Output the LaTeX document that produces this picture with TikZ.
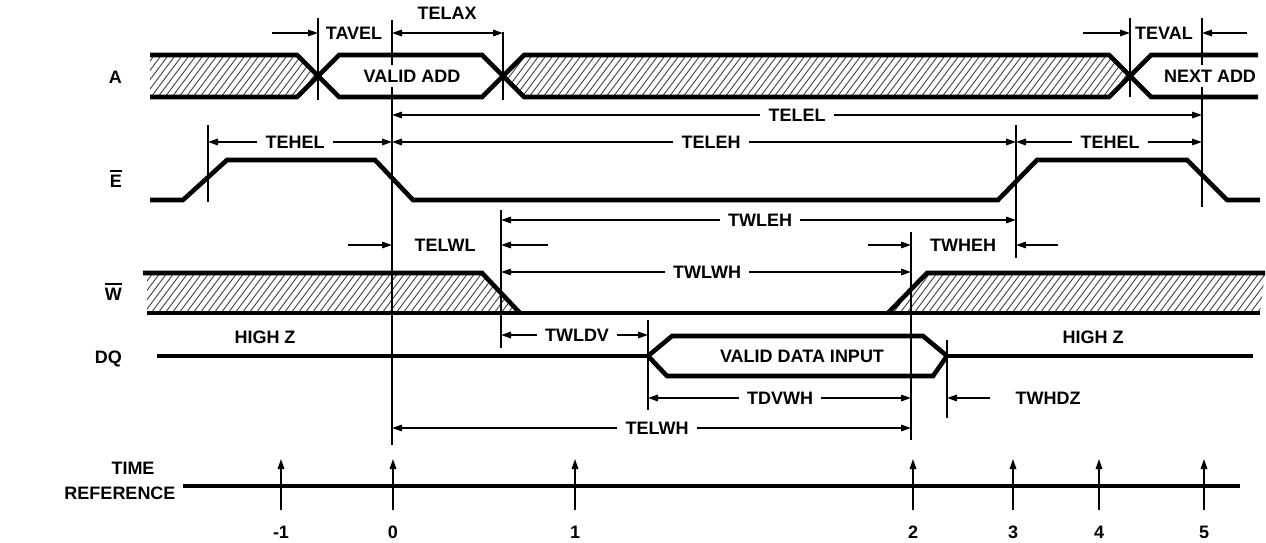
\documentclass[tikz,border=0pt]{standalone}
\usepackage{fontspec}
\setmainfont{Liberation Sans}
\usetikzlibrary{arrows.meta}
\newcommand\ovbar[1]{\vbox{\hrule height 1.5pt\kern 3pt\hbox{#1}}}
\newcommand\myhatch[3]{\begin{scope}\clip #1;\foreach \hx in {60,67,...,1300}{\draw[hatchline] (\hx,#2) -- ++({0.75*(#2-#3)},{-(#2-#3)});}\end{scope}}
\begin{document}
\begin{tikzpicture}[x=1pt,y=-1pt,
  every node/.style={font=\fontsize{18}{20}\selectfont\bfseries, inner sep=2pt},
  sig/.style={line width=4.6pt, line join=miter},
  guide/.style={line width=1.6pt},
  arr/.style={line width=1.6pt, -{Triangle[length=10pt,width=6.5pt]}},
  darr/.style={line width=1.6pt, {Triangle[length=10pt,width=6.5pt]}-{Triangle[length=10pt,width=6.5pt]}},
  lbl/.style={inner xsep=8pt},
  hatchline/.style={line width=0.9pt, black!75}
]
\useasboundingbox (0,0) rectangle (1266,543);

% ---------- hatching ----------
\myhatch{(150,55) -- (297,55) -- (318,76) -- (297,97) -- (150,97) -- cycle}{97}{55}
\myhatch{(503,76) -- (524,55) -- (1109,55) -- (1130,76) -- (1109,97) -- (524,97) -- cycle}{97}{55}
\myhatch{(147,273) -- (482,273) -- (520,313) -- (147,313) -- cycle}{313}{273}
\myhatch{(888,313) -- (927,273) -- (1265,273) -- (1260,313) -- cycle}{313}{273}

% ---------- signals ----------
% A
\draw[sig] (150,55) -- (297,55) -- (339,97) -- (482,97) -- (524,55) -- (1109,55) -- (1151,97) -- (1258,97);
\draw[sig] (150,97) -- (297,97) -- (339,55) -- (482,55) -- (524,97) -- (1109,97) -- (1151,55) -- (1258,55);
% E
\draw[sig] (150,200) -- (183,200) -- (227,160) -- (375,160) -- (413,200) -- (998,200) -- (1037,160) -- (1187,160) -- (1227,200) -- (1260,200);
% W
\draw[sig] (143,273) -- (482,273) -- (520,313);
\draw[sig] (888,313) -- (927,273) -- (1265,273);
\draw[sig] (147,313) -- (1260,313);
% DQ
\draw[sig] (157,356) -- (648,356);
\draw[sig] (648,356) -- (672,336) -- (923,336) -- (947,356) -- (933,376) -- (667,376) -- cycle;
\draw[sig] (947,356) -- (1253,356);
% time reference
\coordinate (tlL) at (183,486);
\coordinate (tlR) at (1240,486);
\draw[sig] (tlL) -- (tlR);

% ---------- guide lines ----------
\coordinate (gA) at (318,18);   \coordinate (gAb) at (318,100);
\coordinate (g0) at (392,20);   \coordinate (g0b) at (392,445);
\coordinate (gB) at (503,32);   \coordinate (gBb) at (503,100);
\coordinate (gC) at (1130,18);  \coordinate (gCb) at (1130,97);
\coordinate (gD) at (1202,18);  \coordinate (gDb) at (1202,207);
\coordinate (gE) at (208,125);  \coordinate (gEb) at (208,202);
\coordinate (gF) at (1016,125); \coordinate (gFb) at (1016,258);
\coordinate (gG) at (501,210);  \coordinate (gGb) at (501,348);
\coordinate (gH) at (911,232);  \coordinate (gHb) at (911,440);
\coordinate (gI) at (648,320);  \coordinate (gIb) at (648,410);
\coordinate (gJ) at (947,340);  \coordinate (gJb) at (947,418);
\foreach \g in {gA,g0,gB,gC,gD,gE,gF,gG,gH,gI,gJ}{\draw[guide] (\g) -- (\g b);}

% ---------- signal texts ----------
\node[fill=white, inner ysep=5pt] (validadd) at (412,76) {VALID ADD};
\node[fill=white, inner ysep=5pt] (nextadd) at (1210,76) {NEXT ADD};
\node (validdata) at (802,356) {VALID DATA INPUT};
\node (highz1) at (265,337) {HIGH Z};
\node (highz2) at (1093,337) {HIGH Z};

% ---------- row labels ----------
\node[anchor=base east] (lA) at (124,83) {A};
\node[anchor=base east] (lE) at (124,187) {\ovbar{E}};
\node[anchor=base east] (lW) at (124,300) {\ovbar{W}};
\node[anchor=base east] (lDQ) at (124,363) {DQ};
\node (ltime) at (133,468) {TIME};
\node (lref) at (120,493) {REFERENCE};

% ---------- timing dimensions ----------
% TAVEL
\node (tavel) at (354,33) {TAVEL};
\coordinate (tavelL) at (272,33);
\draw[arr] (tavelL) -- (gA |- tavel);
% TELAX
\node (telax) at (447,13) {TELAX};
\coordinate (telaxY) at (447,33);
\draw[darr] (g0 |- telaxY) -- (gB |- telaxY);
% TEVAL
\node (teval) at (1164,33) {TEVAL};
\coordinate (tevalL) at (1083,33);
\coordinate (tevalR) at (1247,33);
\draw[arr] (tevalL) -- (gC |- teval);
\draw[arr] (tevalR) -- (gD |- teval);
% TELEL
\node[lbl] (telel) at (797,115) {TELEL};
\draw[arr] (telel.west) -- (g0 |- telel);
\draw[arr] (telel.east) -- (gD |- telel);
% TEHEL left
\node[lbl] (tehel1) at (295,142) {TEHEL};
\draw[arr] (tehel1.west) -- (gE |- tehel1);
\draw[arr] (tehel1.east) -- (g0 |- tehel1);
% TELEH
\node[lbl] (teleh) at (711,142) {TELEH};
\draw[arr] (teleh.west) -- (g0 |- teleh);
\draw[arr] (teleh.east) -- (gF |- teleh);
% TEHEL right
\node[lbl] (tehel2) at (1110,142) {TEHEL};
\draw[arr] (tehel2.west) -- (gF |- tehel2);
\draw[arr] (tehel2.east) -- (gD |- tehel2);
% TWLEH
\node[lbl] (twleh) at (760,220) {TWLEH};
\draw[arr] (twleh.west) -- (gG |- twleh);
\draw[arr] (twleh.east) -- (gF |- twleh);
% TELWL
\node (telwl) at (445,245) {TELWL};
\coordinate (telwlL) at (348,245);
\coordinate (telwlR) at (548,245);
\draw[arr] (telwlL) -- (g0 |- telwl);
\draw[arr] (telwlR) -- (gG |- telwl);
% TWHEH
\node (twheh) at (963,245) {TWHEH};
\coordinate (twhehL) at (868,245);
\coordinate (twhehR) at (1058,245);
\draw[arr] (twhehL) -- (gH |- twheh);
\draw[arr] (twhehR) -- (gF |- twheh);
% TWLWH
\node[lbl] (twlwh) at (707,272) {TWLWH};
\draw[arr] (twlwh.west) -- (gG |- twlwh);
\draw[arr] (twlwh.east) -- (gH |- twlwh);
% TWLDV
\node[lbl] (twldv) at (577,335) {TWLDV};
\draw[arr] (twldv.west) -- (gG |- twldv);
\draw[arr] (twldv.east) -- (gI |- twldv);
% TDVWH
\node[lbl] (tdvwh) at (780,398) {TDVWH};
\draw[arr] (tdvwh.west) -- (gI |- tdvwh);
\draw[arr] (tdvwh.east) -- (gH |- tdvwh);
% TWHDZ
\node (twhdz) at (1048,398) {TWHDZ};
\coordinate (twhdzR) at (990,398);
\draw[arr] (twhdzR) -- (gJ |- twhdz);
% TELWH
\node[lbl] (telwh) at (657,428) {TELWH};
\draw[arr] (telwh.west) -- (g0 |- telwh);
\draw[arr] (telwh.east) -- (gH |- telwh);

% ---------- time reference ticks ----------
\foreach \lab/\x in {-1/281,0/393,1/575,2/913,3/1013,4/1099,5/1204}{
  \coordinate (tb\x) at (\x,510);
  \coordinate (tt\x) at (\x,459);
  \draw[arr] (tb\x) -- (tt\x);
  \node (tl\x) at (\x,532) {\lab};
}
\end{tikzpicture}
\end{document}
